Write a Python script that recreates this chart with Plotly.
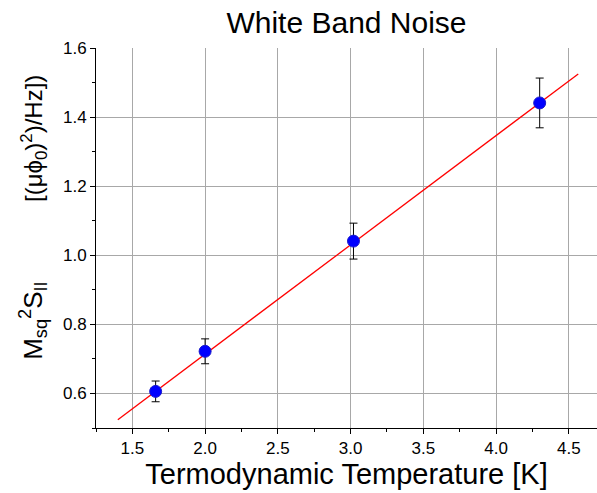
import plotly.graph_objects as go

temp_K = [1.66, 2.00, 3.02, 4.30]
noise = [0.606, 0.722, 1.041, 1.441]
noise_err = [0.030, 0.036, 0.052, 0.072]
fit_x = [1.40, 4.565]
fit_y = [0.524, 1.525]

fig = go.Figure()
fig.add_trace(go.Scatter(x=fit_x, y=fit_y, mode="lines",
                         line=dict(color="red", width=1.3), showlegend=False))
fig.add_trace(go.Scatter(x=temp_K, y=noise, mode="markers",
                         marker=dict(color="#0000ff", size=12, line=dict(color="#1a1acc", width=1)),
                         error_y=dict(type="data", array=noise_err, color="black", thickness=1, width=4),
                         showlegend=False))

font = "Liberation Sans, Arial, sans-serif"
ytitle = ("M<sub>sq</sub><sup>2</sup>S<sub>II</sub>" + "\u00a0" * 11 +
          "<span style='font-size:24px'>[(μϕ<sub>0</sub>)<sup>2</sup>)/Hz])</span>")
fig.update_layout(
    width=597, height=493,
    margin=dict(l=96, r=0, t=48, b=65),
    paper_bgcolor="white", plot_bgcolor="white",
    font=dict(family=font, color="black"),
    title=dict(text="White Band Noise", x=0.5, xref="paper", xanchor="center", y=0.955, yanchor="middle",
               font=dict(size=30, family=font, color="black")),
    xaxis=dict(range=[1.25, 4.694], tickvals=[1.5, 2.0, 2.5, 3.0, 3.5, 4.0, 4.5],
               ticktext=["1.5", "2.0", "2.5", "3.0", "3.5", "4.0", "4.5"],
               showgrid=True, gridcolor="#a8a8a8", gridwidth=1,
               showline=True, linecolor="black", linewidth=1,
               ticks="outside", ticklen=5, tickcolor="black",
               minor=dict(dtick=0.25, tick0=1.25, ticks="outside", ticklen=3, tickcolor="black", showgrid=False),
               tickfont=dict(size=17), zeroline=False,
               title=dict(text="Termodynamic Temperature [K]", font=dict(size=29), standoff=6)),
    yaxis=dict(range=[0.5, 1.6], tickvals=[0.6, 0.8, 1.0, 1.2, 1.4, 1.6],
               ticktext=["0.6", "0.8", "1.0", "1.2", "1.4", "1.6"],
               showgrid=True, gridcolor="#a8a8a8", gridwidth=1,
               showline=True, linecolor="black", linewidth=1,
               ticks="outside", ticklen=5, tickcolor="black",
               minor=dict(dtick=0.1, tick0=0.5, ticks="outside", ticklen=3, tickcolor="black", showgrid=False),
               tickfont=dict(size=17), zeroline=False),
    annotations=[dict(text=ytitle, textangle=-90, xref="paper", yref="paper",
                      x=-0.125, y=0.554, xanchor="center", yanchor="middle",
                      showarrow=False, font=dict(size=26, family=font, color="black"))],
)
fig.write_html("out.html")
